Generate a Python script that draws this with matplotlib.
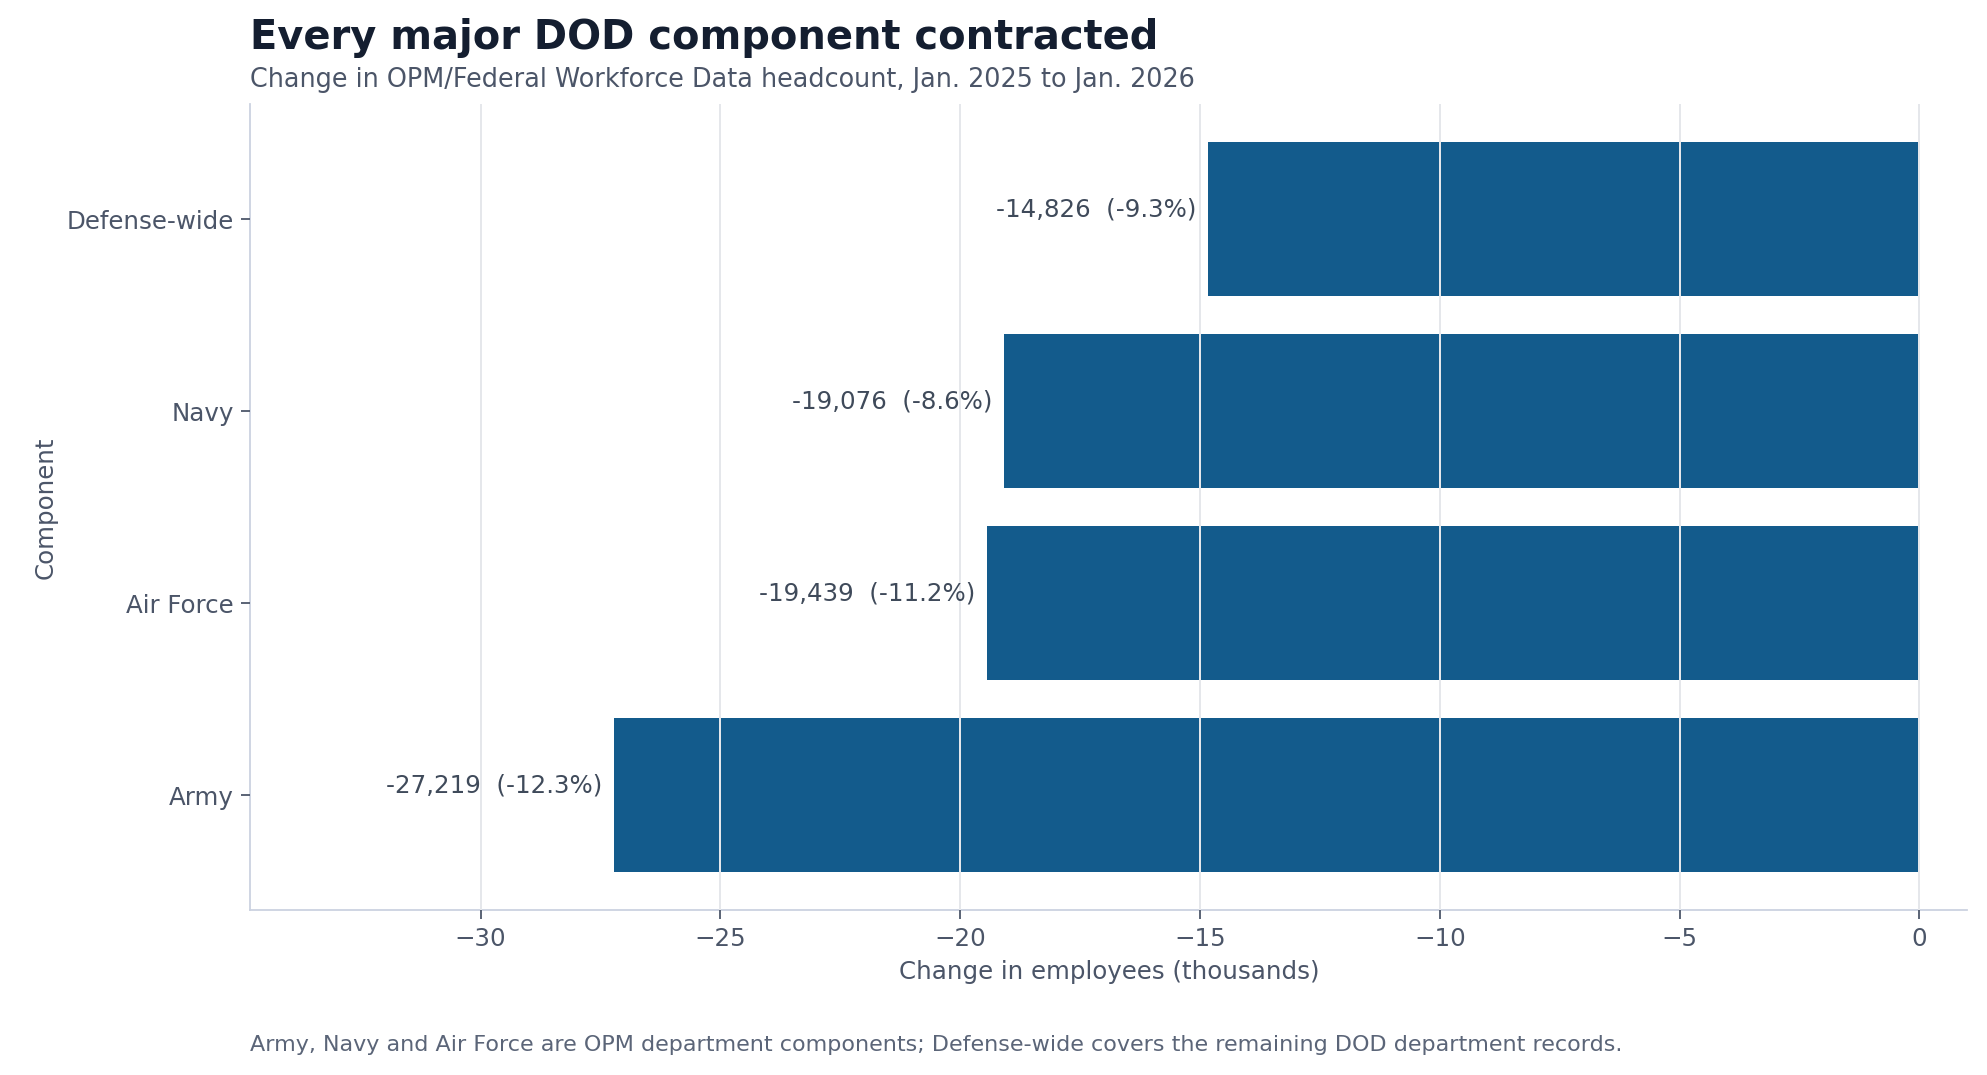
import matplotlib
matplotlib.use("Agg")
import matplotlib.pyplot as plt

components = ["Army", "Air Force", "Navy", "Defense-wide"]
changes = [-27219, -19439, -19076, -14826]
pcts = [-12.3, -11.2, -8.6, -9.3]

fig = plt.figure(figsize=(12.42, 6.72), dpi=160)
ax = fig.add_axes([0.126, 0.153, 0.864, 0.75])
vals = [c/1000 for c in changes]
ax.barh(components, vals, color="#135b8c", height=0.8, zorder=2)
ax.set_xlim(-34.8, 1.0)
ax.set_ylim(-0.6, 3.6)
ax.grid(axis="x", color="#e5e7eb", linewidth=0.9, zorder=3)
ax.set_axisbelow(False)
for i, (v, c, p) in enumerate(zip(vals, changes, pcts)):
    ax.text(v - 0.25, i + 0.05, f"{c:,}  ({p}%)", ha="right", va="center",
            fontsize=11, color="#3f4a5a", zorder=4)
for s in ["top", "right"]:
    ax.spines[s].set_visible(False)
for s in ["left", "bottom"]:
    ax.spines[s].set_color("#cbd2e0")
ax.tick_params(colors="#4b5568", labelsize=11, length=4)
ax.tick_params(axis="both", color="#4b5568")
ax.set_xlabel("Change in employees (thousands)", fontsize=11, color="#4b5568")
ax.set_ylabel("Component", fontsize=11, color="#4b5568")
fig.text(0.126, 0.965, "Every major DOD component contracted", fontsize=18,
         fontweight="bold", color="#141e30", va="center")
fig.text(0.126, 0.926, "Change in OPM/Federal Workforce Data headcount, Jan. 2025 to Jan. 2026",
         fontsize=11.5, color="#4b5568", va="center")
fig.text(0.126, 0.028, "Army, Navy and Air Force are OPM department components; Defense-wide covers the remaining DOD department records.",
         fontsize=10, color="#5b6578", va="center")
fig.savefig("out.png", dpi=160)
